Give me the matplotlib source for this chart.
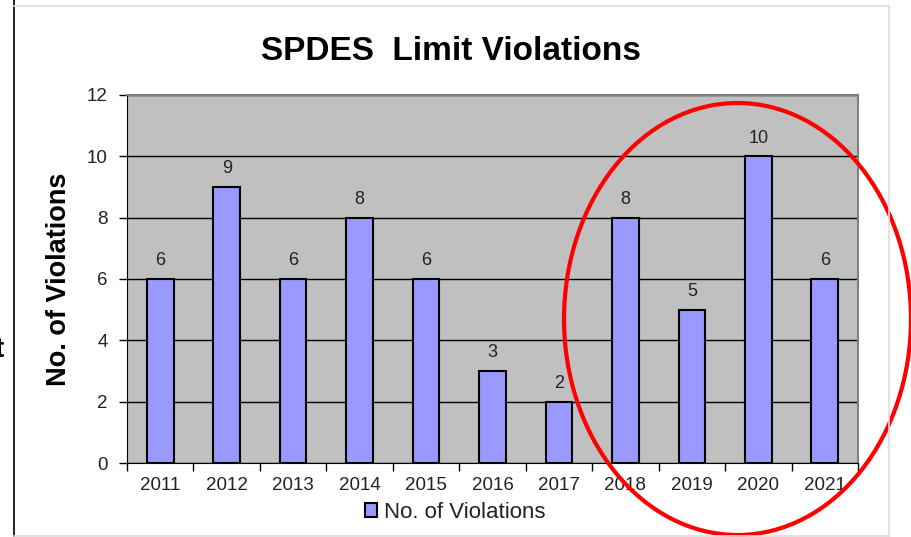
import matplotlib.pyplot as plt
from matplotlib.patches import Ellipse
from matplotlib.lines import Line2D

plt.rcParams['font.family'] = ['Liberation Sans', 'DejaVu Sans']

years = ['2011', '2012', '2013', '2014', '2015', '2016', '2017', '2018', '2019', '2020', '2021']
violations = [6, 9, 6, 8, 6, 3, 2, 8, 5, 10, 6]

fig = plt.figure(figsize=(9.12, 5.37), dpi=100)
ax = fig.add_axes([0.1393, 0.1378, 0.8015, 0.6853])
ax.set_facecolor('#c0c0c0')

x = range(len(years))
bars = ax.bar(x, violations, width=0.4, color='#9999ff', edgecolor='black', linewidth=1.5,
              label='No. of Violations', zorder=3)
ax.bar_label(bars, padding=7, fontsize=13, color='#222222')

ax.set_xlim(-0.5, len(years) - 0.5)
ax.set_ylim(0, 12)
ax.set_yticks(range(0, 13, 2))
ax.yaxis.grid(True, color='black', linewidth=1)
ax.set_axisbelow(True)

# category labels in the middle, tick marks on the boundaries
ax.set_xticks(list(x))
ax.set_xticklabels(years, fontsize=13.5, color='#222222')
ax.tick_params(axis='x', length=0, pad=10)
ax.set_xticks([i - 0.5 for i in range(len(years) + 1)], minor=True)
ax.tick_params(axis='x', which='minor', length=6, width=1, color='black', direction='out')
ax.tick_params(axis='y', labelsize=13.5, labelcolor='#222222', length=6, width=1, pad=8)

for s in ['top', 'right']:
    ax.spines[s].set_color('#808080')
    ax.spines[s].set_linewidth(1.5)
ax.spines['left'].set_color('black')
ax.spines['bottom'].set_color('black')

ax.set_ylabel('No. of Violations', fontsize=19.5, fontweight='bold')
ax.yaxis.set_label_coords(-0.0752, 0.5)
fig.text(0.494, 0.905, 'SPDES  Limit Violations', ha='center', va='center',
         fontsize=24, fontweight='bold')

ax.legend(loc='center', bbox_to_anchor=(0.499, 0.046), bbox_transform=fig.transFigure,
          frameon=False, fontsize=16, handlelength=0.55, handleheight=0.55, handletextpad=0.3,
          labelcolor='#222222')

# frame of the surrounding slide
fig.add_artist(Line2D([14 / 912, 14 / 912], [0, 1], color='black', linewidth=1.2))
fig.add_artist(Line2D([14 / 912, 889 / 912], [1 - 6 / 537, 1 - 6 / 537], color='#dddddd', linewidth=1.2))
fig.add_artist(Line2D([889 / 912, 889 / 912], [1 - 536 / 537, 1 - 6 / 537], color='#dddddd', linewidth=1.2))
fig.add_artist(Line2D([14 / 912, 889 / 912], [1 - 536 / 537, 1 - 536 / 537], color='#dddddd', linewidth=1.2))
# fragment of a letter cut off by the left edge of the screenshot
fig.text(-0.006, 1 - 350 / 537, 't', fontsize=20, fontweight='bold', va='center', ha='left')

# red circle drawn over the last four years
fig.add_artist(Ellipse((737.5 / 912, 1 - 319 / 537), 347 / 912, 432 / 537,
                       transform=fig.transFigure, fill=False, edgecolor='red', linewidth=3))

fig.savefig('out.png', dpi=100)
